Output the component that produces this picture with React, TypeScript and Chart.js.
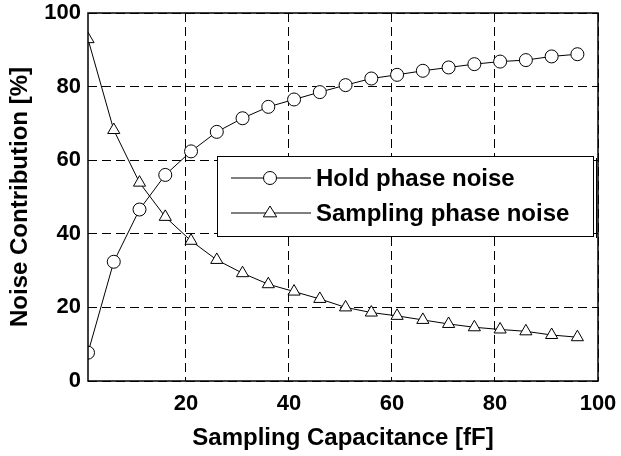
import React, { useEffect, useRef } from "react";
import { Chart, registerables } from "chart.js";

Chart.register(...registerables);

const capacitance = [1, 6, 11, 16, 21, 26, 31, 36, 41, 46, 51, 56, 61, 66, 71, 76, 81, 86, 91, 96];
const holdNoise = [7.7, 32.4, 46.6, 56, 62.4, 67.7, 71.4, 74.5, 76.5, 78.5, 80.4, 82.2, 83.2, 84.3, 85.2, 86.1, 86.8, 87.2, 88.2, 88.8];
const samplingNoise = [92.9, 68.2, 53.9, 44.6, 38.1, 32.9, 29.3, 26.3, 24.3, 22.3, 20.0, 18.6, 17.7, 16.6, 15.5, 14.6, 14.0, 13.5, 12.5, 11.9];
const xTicks = [20, 40, 60, 80, 100];
const yTicks = [0, 20, 40, 60, 80, 100];
const legendLabels = ["Hold phase noise", "Sampling phase noise"];

const FONT = "'Liberation Sans', Arial, sans-serif";

const boxAndLegend = {
  id: "boxAndLegend",
  afterDraw(chart: any) {
    const { ctx, chartArea } = chart;
    const { left, right, top, bottom } = chartArea;
    ctx.save();
    ctx.strokeStyle = "#000";
    ctx.lineWidth = 1.5;
    ctx.setLineDash([]);
    ctx.strokeRect(left, top, right - left, bottom - top);

    // legend box
    const lx = 217, ly = 156, lw = 376, lh = 80;
    ctx.fillStyle = "#fff";
    ctx.fillRect(lx, ly, lw, lh);
    ctx.lineWidth = 1;
    ctx.strokeRect(lx + 0.5, ly + 0.5, lw, lh);
    ctx.beginPath();
    ctx.moveTo(lx + lw + 3.5, ly + 2);
    ctx.lineTo(lx + lw + 3.5, ly + lh + 2);
    ctx.stroke();

    const rows = [ly + 22, ly + 57];
    const styles = ["circle", "triangle"];
    rows.forEach((ry, i) => {
      ctx.beginPath();
      ctx.moveTo(231, ry);
      ctx.lineTo(311, ry);
      ctx.stroke();
      ctx.fillStyle = "#fff";
      ctx.beginPath();
      if (styles[i] === "circle") {
        ctx.arc(270, ry, 6.5, 0, Math.PI * 2);
      } else {
        const r = 7;
        ctx.moveTo(270, ry - r);
        ctx.lineTo(270 + r * 0.95, ry + r * 0.55);
        ctx.lineTo(270 - r * 0.95, ry + r * 0.55);
        ctx.closePath();
      }
      ctx.fill();
      ctx.stroke();
      ctx.fillStyle = "#000";
      ctx.font = `bold 24px ${FONT}`;
      ctx.textBaseline = "middle";
      ctx.textAlign = "left";
      ctx.fillText(legendLabels[i], 316, ry + 1);
    });
    ctx.restore();
  },
};

export default function App() {
  const ref = useRef<HTMLCanvasElement>(null);
  useEffect(() => {
    document.body.style.margin = "0";
    const chart = new Chart(ref.current!, {
      type: "line",
      data: {
        datasets: [
          {
            label: legendLabels[0],
            data: capacitance.map((x, i) => ({ x, y: holdNoise[i] })),
            borderColor: "#000",
            borderWidth: 1,
            backgroundColor: "#fff",
            pointStyle: "circle",
            pointRadius: 6.5,
            pointBorderWidth: 1,
            pointBorderColor: "#000",
            pointBackgroundColor: "#fff",
            tension: 0,
          },
          {
            label: legendLabels[1],
            data: capacitance.map((x, i) => ({ x, y: samplingNoise[i] })),
            borderColor: "#000",
            borderWidth: 1,
            backgroundColor: "#fff",
            pointStyle: "triangle",
            pointRadius: 7,
            pointBorderWidth: 1,
            pointBorderColor: "#000",
            pointBackgroundColor: "#fff",
            tension: 0,
          },
        ],
      },
      options: {
        responsive: false,
        animation: false,
        layout: { padding: { top: 13, right: 23, left: 0, bottom: 0 } },
        plugins: { legend: { display: false }, tooltip: { enabled: false } },
        scales: {
          x: {
            type: "linear",
            min: 1,
            max: 100,
            afterBuildTicks: (s: any) => { s.ticks = xTicks.map((v) => ({ value: v })); },
            afterFit: (s: any) => { s.height = 75; s.paddingRight = 0; s.paddingLeft = 0; },
            grid: { color: "#000", lineWidth: 1, drawTicks: false },
            border: { display: false, dash: [9, 5] },
            ticks: { color: "#000", font: { family: FONT, size: 22, weight: "bold" }, padding: 10, maxRotation: 0 },
            title: { display: true, text: "Sampling Capacitance [fF]", color: "#000", font: { family: FONT, size: 24, weight: "bold" }, padding: { top: 0, bottom: 3 } },
          },
          y: {
            min: 0,
            max: 100,
            afterBuildTicks: (s: any) => { s.ticks = yTicks.map((v) => ({ value: v })); },
            afterFit: (s: any) => { s.width = 88; s.paddingTop = 0; s.paddingBottom = 0; },
            grid: { color: "#000", lineWidth: 1, drawTicks: false },
            border: { display: false, dash: [9, 5] },
            ticks: { color: "#000", font: { family: FONT, size: 22, weight: "bold" }, padding: 7 },
            title: { display: true, text: "Noise Contribution [%]", color: "#000", font: { family: FONT, size: 24, weight: "bold" }, padding: { top: 6, bottom: 0 } },
          },
        },
      } as any,
      plugins: [boxAndLegend],
    });
    return () => chart.destroy();
  }, []);
  return <canvas ref={ref} width={621} height={456} style={{ display: "block" }} />;
}
